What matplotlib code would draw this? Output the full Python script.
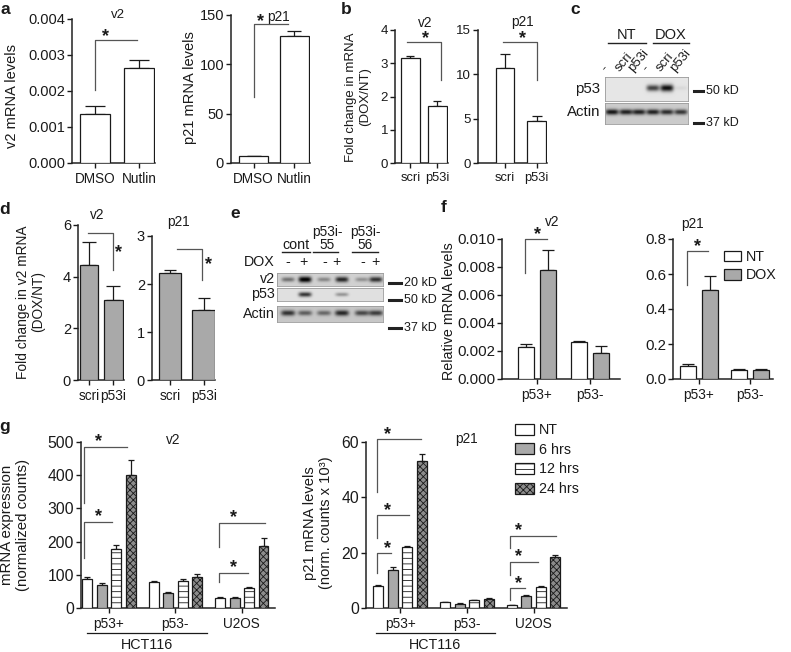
import numpy as np
import matplotlib
matplotlib.use('Agg')
import matplotlib.pyplot as plt
from matplotlib.patches import Patch
import matplotlib.transforms as mtrans

plt.rcParams['font.family'] = ['Liberation Sans', 'DejaVu Sans']
plt.rcParams['hatch.linewidth'] = 0.6
plt.rcParams['text.color'] = '#1a1a1a'

# ---------------- data ----------------
a_cats = ['DMSO', 'Nutlin']
a_v2 = [0.00135, 0.00265]
a_v2_err = [0.00023, 0.00022]
a_p21 = [6.8, 129.0]
a_p21_err = [0.4, 5.0]

b_cats = ['scri', 'p53i']
b_v2 = [3.17, 1.72]
b_v2_err = [0.06, 0.15]
b_p21 = [10.76, 4.69]
b_p21_err = [1.54, 0.56]

d_cats = ['scri', 'p53i']
d_v2 = [4.45, 3.10]
d_v2_err = [0.88, 0.55]
d_p21 = [2.23, 1.455]
d_p21_err = [0.07, 0.255]

f_groups = ['p53+', 'p53-']
f_series = ['NT', 'DOX']
f_v2_nt = [0.0023, 0.00267]
f_v2_nt_err = [0.00018, 0.00007]
f_v2_dox = [0.00776, 0.00184]
f_v2_dox_err = [0.00143, 0.00052]
f_p21_nt = [0.077, 0.052]
f_p21_nt_err = [0.009, 0.007]
f_p21_dox = [0.51, 0.052]
f_p21_dox_err = [0.076, 0.007]

g_groups = ['p53+', 'p53-', 'U2OS']
g_times = ['NT', '6 hrs', '12 hrs', '24 hrs']
g_v2 = [[88, 77, 30], [68, 45, 30], [177, 80, 60], [400, 92, 188]]
g_v2_err = [[4, 5, 2], [6, 2, 2], [12, 6, 4], [47, 10, 22]]
g_p21 = [[8.0, 2.1, 1.1], [13.7, 1.6, 4.3], [22.0, 2.8, 7.5], [53.0, 3.4, 18.4]]
g_p21_err = [[0.3, 0.2, 0.1], [1.1, 0.2, 0.3], [0.3, 0.2, 0.3], [2.8, 0.3, 0.7]]

# western blot band intensities (relative)
c_lanes = ['-', 'scri', 'p53i', '-', 'scri', 'p53i']
c_p53 = [0.0, 0.0, 0.0, 0.75, 1.0, 0.06]
c_actin = [0.85, 0.8, 0.8, 0.8, 0.75, 0.7]
e_dox = ['-', '+', '-', '+', '-', '+']
e_v2 = [0.45, 1.0, 0.35, 0.8, 0.3, 0.75]
e_p53 = [0.0, 0.8, 0.0, 0.35, 0.0, 0.0]
e_actin = [0.7, 0.5, 0.45, 0.75, 0.6, 0.65]

GRAY = '#a9a9a9'
TXT = '#1a1a1a'

W, H = 791, 652
fig = plt.figure(figsize=(W / 100, H / 100), dpi=100)


def add_ax(l, t, r, b):
    return fig.add_axes([l / W, 1 - b / H, (r - l) / W, (b - t) / H])


def ftext(x, y, s, **kw):
    kw.setdefault('ha', 'center')
    kw.setdefault('va', 'center')
    return fig.text(x / W, 1 - y / H, s, **kw)


def fline(x0, x1, y0, y1, lw=1.0, color='#222222'):
    fig.add_artist(plt.Line2D([x0 / W, x1 / W], [1 - y0 / H, 1 - y1 / H],
                              lw=lw, color=color))


def style_ax(ax, xlim, ylim, yticks, ylabels, fs):
    ax.set_xlim(*xlim)
    ax.set_ylim(*ylim)
    for s in ['top', 'right']:
        ax.spines[s].set_visible(False)
    for s in ['left', 'bottom']:
        ax.spines[s].set_linewidth(1.1)
        ax.spines[s].set_color('#222222')
    ax.set_yticks(yticks)
    ax.set_yticklabels(ylabels)
    ax.tick_params(direction='out', length=3.5, width=1.0, pad=1.5,
                   labelsize=fs, colors=TXT)
    ax.tick_params(axis='x', pad=2.8)
    ax.patch.set_alpha(0)


def bars(ax, x, vals, errs, width, capsize, **kw):
    ax.bar(x, vals, width=width, edgecolor='#1a1a1a', linewidth=0.9,
           zorder=3, **kw)
    ax.errorbar(x, vals, yerr=[np.zeros(len(vals)), errs], fmt='none',
                ecolor='#1a1a1a', elinewidth=0.9, capsize=capsize,
                capthick=0.9, zorder=2)


def bracket(ax, xs, ys):
    ax.plot(xs, ys, color='#555555', lw=0.9, clip_on=False, zorder=4)


def star(ax, x, y, fs=13):
    ax.text(x, y, '*', ha='center', va='center', fontsize=fs, color=TXT,
            fontweight='bold', clip_on=False)


# ---------------- panel a ----------------
ax = add_ax(72, 19, 155, 163)
bars(ax, [0, 1], a_v2, a_v2_err, 0.68, 7.2, color='white')
style_ax(ax, (-0.52, 1.36), (0, 0.004), [0, 0.001, 0.002, 0.003, 0.004],
         ['0.000', '0.001', '0.002', '0.003', '0.004'], 10.5)
ax.set_xticks([0, 1])
ax.set_xticklabels(a_cats, fontsize=9.8)
ax.text(0.52, 0.00411, 'v2', fontsize=9.5, ha='center', va='center', clip_on=False)
bracket(ax, [0, 0, 0.95], [0.00203, 0.00342, 0.00342])
star(ax, 0.25, 0.0035)

ax = add_ax(231, 15, 310, 163)
bars(ax, [0, 1], a_p21, a_p21_err, 0.71, 4.7, color='white')
style_ax(ax, (-0.55, 1.38), (0, 150), [0, 50, 100, 150],
         ['0', '50', '100', '150'], 10.5)
ax.set_xticks([0, 1])
ax.set_xticklabels(a_cats, fontsize=9.8)
bracket(ax, [0, 0, 0.84], [67, 141, 141])
star(ax, 0.16, 143)
ax.text(0.6, 148, 'p21', fontsize=9.8, ha='center', va='center', clip_on=False)

ftext(12, 96, 'v2 mRNA levels', rotation=90, fontsize=10.5)
ftext(190, 88, 'p21 mRNA levels', rotation=90, fontsize=10.5)

# ---------------- panel b ----------------
ax = add_ax(395, 30, 448, 163)
bars(ax, [0, 1], b_v2, b_v2_err, 0.7, 2.8, color='white')
style_ax(ax, (-0.57, 1.39), (0, 4), [0, 1, 2, 3, 4],
         ['0', '1', '2', '3', '4'], 9.5)
ax.set_xticks([0, 1])
ax.set_xticklabels(b_cats, fontsize=9.3)
ax.text(0.54, 4.21, 'v2', fontsize=9.8, ha='center', va='center')
bracket(ax, [-0.13, 1.13, 1.13], [3.64, 3.64, 2.5])
star(ax, 0.54, 3.74)

ax = add_ax(478, 30, 547, 163)
bars(ax, [0, 1], b_p21, b_p21_err, 0.59, 3.5, color='white')
style_ax(ax, (-0.86, 1.33), (0, 15), [0, 5, 10, 15],
         ['0', '5', '10', '15'], 9.5)
ax.set_xticks([0, 1])
ax.set_xticklabels(b_cats, fontsize=9.3)
ax.text(0.54, 15.9, 'p21', fontsize=9.8, ha='center', va='center')
bracket(ax, [-0.06, 1.02, 1.02], [13.65, 13.65, 9.36])
star(ax, 0.54, 14.0)

ftext(358, 97, 'Fold change in mRNA\n(DOX/NT)', rotation=90, fontsize=9.5,
      multialignment='center', linespacing=1.15)

# ---------------- panel c (blot) ----------------


def blot(l, t, r, b, centers, intens, bg, bw, bh, yc=None, dark=0.85):
    ax = add_ax(l, t, r, b)
    nx, ny = int((r - l) * 4), int((b - t) * 4)
    xs = np.linspace(l, r, nx)
    ys = np.linspace(t, b, ny)
    X, Y = np.meshgrid(xs, ys)
    if yc is None:
        yc = (t + b) / 2
    img = np.full(X.shape, bg, dtype=float)
    for c, a in zip(centers, intens):
        img -= dark * a * np.exp(-(np.abs(X - c) / bw) ** 4
                                 - ((Y - yc) / (bh * (0.6 + 0.4 * a + 1e-9))) ** 2)
    ax.imshow(np.clip(img, 0, 1), cmap='gray', vmin=0, vmax=1,
              extent=(0, 1, 0, 1), aspect='auto', interpolation='bilinear')
    ax.set_xticks([])
    ax.set_yticks([])
    for s in ax.spines.values():
        s.set_color('#9a9a9a')
        s.set_linewidth(0.6)
    return ax


c_centers = [612, 626, 639, 653, 667, 681]
blot(605, 77, 688, 101, c_centers, c_p53, 0.9, 6.5, 3.5, yc=88)
blot(605, 103, 688, 124, c_centers, c_actin, 0.8, 6.5, 3.0, yc=112)
ftext(600, 89, 'p53', ha='right', fontsize=10.8)
ftext(600, 112, 'Actin', ha='right', fontsize=10.8)
fline(694, 703, 91, 91, lw=2.2)
ftext(706, 91, '50 kD', ha='left', fontsize=9)
fline(694, 703, 123, 123, lw=2.2)
ftext(706, 123, '37 kD', ha='left', fontsize=9)
ftext(627, 35, 'NT', fontsize=10.5)
fline(608, 646, 43, 43, lw=1.0)
ftext(671, 35, 'DOX', fontsize=10.5)
fline(653, 689, 43, 43, lw=1.0)
for cx, lab in zip(c_centers, c_lanes):
    fig.text((cx - 4) / W, 1 - 74 / H, lab, rotation=50, ha='left',
             va='bottom', rotation_mode='anchor', fontsize=9.5)

# ---------------- panel d ----------------
ax = add_ax(78, 225, 124, 380)
bars(ax, [0, 1], d_v2, d_v2_err, 0.75, 5.0, color=GRAY)
style_ax(ax, (-0.45, 1.43), (0, 6), [0, 2, 4, 6], ['0', '2', '4', '6'], 10.5)
ax.set_xticks([0, 1])
ax.set_xticklabels(d_cats, fontsize=9.8)
ax.text(0.33, 6.39, 'v2', fontsize=9.8, ha='center', va='center')
bracket(ax, [-0.04, 0.98, 0.98], [5.69, 5.69, 4.26])
star(ax, 1.2, 4.95)

ax = add_ax(152, 236, 215, 380)
bars(ax, [0, 1], d_p21, d_p21_err, 0.67, 4.0, color=GRAY)
style_ax(ax, (-0.54, 1.34), (0, 3), [0, 1, 2, 3], ['0', '1', '2', '3'], 10.5)
ax.set_xticks([0, 1])
ax.set_xticklabels(d_cats, fontsize=9.8)
ax.text(0.24, 3.29, 'p21', fontsize=9.8, ha='center', va='center')
bracket(ax, [0.21, 0.96, 0.96], [2.73, 2.73, 2.08])
star(ax, 1.15, 2.40)

ftext(31, 302, 'Fold change in v2 mRNA\n(DOX/NT)', rotation=90, fontsize=9.9,
      multialignment='center', linespacing=1.1)

# ---------------- panel e (blot) ----------------
e_centers = [288, 305, 324, 342, 362, 376]
blot(277, 273, 383, 286, e_centers, e_v2, 0.82, 6.5, 3.0, yc=279.5)
blot(277, 288, 383, 301, e_centers, e_p53, 0.88, 6.5, 2.6, yc=294.5)
blot(277, 306, 383, 322, e_centers, e_actin, 0.78, 7.0, 3.2, yc=313)
ftext(275, 279, 'v2', ha='right', fontsize=10.3)
ftext(275, 294, 'p53', ha='right', fontsize=10.3)
ftext(275, 314, 'Actin', ha='right', fontsize=10.3)
ftext(275, 262, 'DOX', ha='right', fontsize=10.3)
for cx, lab in zip([288, 303, 325, 336, 363, 375], e_dox):
    ftext(cx, 262, lab, fontsize=10.3)
ftext(296, 245, 'cont', fontsize=10.3)
fline(282, 310, 252, 252)
ftext(327, 232, 'p53i-', fontsize=9.8)
ftext(327, 245, '55', fontsize=9.8)
fline(313, 338, 252, 252)
ftext(365, 232, 'p53i-', fontsize=9.8)
ftext(365, 245, '56', fontsize=9.8)
fline(352, 378, 252, 252)
fline(389, 401, 283, 283, lw=2.2)
ftext(404, 283, '20 kD', ha='left', fontsize=9)
fline(389, 401, 300, 300, lw=2.2)
ftext(404, 300, '50 kD', ha='left', fontsize=9)
fline(389, 401, 328, 328, lw=2.2)
ftext(404, 328, '37 kD', ha='left', fontsize=9)

# ---------------- panel f ----------------
ax = add_ax(502, 239, 620, 379)
xg = np.arange(len(f_groups))
bars(ax, xg - 0.21, f_v2_nt, f_v2_nt_err, 0.30, 4.0, color='white')
bars(ax, xg + 0.21, f_v2_dox, f_v2_dox_err, 0.30, 4.0, color=GRAY)
style_ax(ax, (-0.66, 1.57), (0, 0.010), [0, 0.002, 0.004, 0.006, 0.008, 0.010],
         ['0.000', '0.002', '0.004', '0.006', '0.008', '0.010'], 10.8)
ax.set_xticks(xg)
ax.set_xticklabels(f_groups, fontsize=9.8)
ax.text(0.28, 0.0112, 'v2', fontsize=9.8, ha='center', va='center')
bracket(ax, [-0.23, -0.23, 0.19], [0.00757, 0.0100, 0.0100])
star(ax, 0.02, 0.0103)

ax = add_ax(673, 239, 773, 379)
bars(ax, xg - 0.216, f_p21_nt, f_p21_nt_err, 0.31, 4.0, color='white')
bars(ax, xg + 0.216, f_p21_dox, f_p21_dox_err, 0.31, 4.0, color=GRAY)
style_ax(ax, (-0.51, 1.45), (0, 0.8), [0, 0.2, 0.4, 0.6, 0.8],
         ['0.0', '0.2', '0.4', '0.6', '0.8'], 10.8)
ax.set_xticks(xg)
ax.set_xticklabels(f_groups, fontsize=9.8)
ax.text(-0.12, 0.886, 'p21', fontsize=9.8, ha='center', va='center', clip_on=False)
bracket(ax, [-0.24, -0.24, 0.18], [0.537, 0.731, 0.731])
star(ax, -0.02, 0.755)
ax.legend([Patch(facecolor='white', edgecolor='#1a1a1a', lw=0.9),
           Patch(facecolor=GRAY, edgecolor='#1a1a1a', lw=0.9)], f_series,
          loc='upper left', bbox_to_anchor=(724 / W, 1 - 250 / H),
          bbox_transform=fig.transFigure, frameon=False, fontsize=10.3,
          handlelength=1.2, handleheight=0.75, handletextpad=0.35,
          labelspacing=0.3, borderpad=0, borderaxespad=0)

ftext(449, 311, 'Relative mRNA levels', rotation=90, fontsize=10.3)

# ---------------- panel g ----------------
g_styles = [dict(color='white'),
            dict(color=GRAY),
            dict(color='white', hatch='---'),
            dict(color='#8c8c8c', hatch='xxxxx')]
g_off = [-1.5, -0.5, 0.5, 1.5]
xg3 = np.arange(len(g_groups))

ax = add_ax(81, 442, 275, 608)
for i in range(4):
    bars(ax, xg3 + g_off[i] * 0.218, g_v2[i], g_v2_err[i], 0.15, 2.3, **g_styles[i])
style_ax(ax, (-0.42, 2.5), (0, 500), [0, 100, 200, 300, 400, 500],
         ['0', '100', '200', '300', '400', '500'], 11.3)
ax.set_xticks(xg3)
ax.set_xticklabels(g_groups, fontsize=9.8)
ax.text(0.97, 506, 'v2', fontsize=9.8, ha='center', va='center', clip_on=False)
bracket(ax, [-0.37, -0.37, 0.27], [316, 485, 485])
star(ax, -0.15, 500)
bracket(ax, [-0.37, -0.37, 0.05], [151, 259, 259])
star(ax, -0.15, 275)
bracket(ax, [1.66, 1.66, 2.35], [184, 256, 256])
star(ax, 1.87, 272)
bracket(ax, [1.66, 1.66, 2.09], [78, 105, 105])
star(ax, 1.87, 122)
tr = mtrans.blended_transform_factory(ax.transData, ax.transAxes)
ax.plot([-0.33, 1.48], [-0.151, -0.151], color='#1a1a1a', lw=0.9,
        transform=tr, clip_on=False)
ax.text(0.575, -0.225, 'HCT116', transform=tr, ha='center', va='center',
        fontsize=10.3)

ax = add_ax(366, 442, 567, 608)
for i in range(4):
    bars(ax, xg3 + g_off[i] * 0.218, g_p21[i], g_p21_err[i], 0.15, 2.3, **g_styles[i])
style_ax(ax, (-0.51, 2.5), (0, 60), [0, 20, 40, 60], ['0', '20', '40', '60'], 11.3)
ax.set_xticks(xg3)
ax.set_xticklabels(g_groups, fontsize=9.8)
ax.text(1.0, 61, 'p21', fontsize=9.8, ha='center', va='center', clip_on=False)
bracket(ax, [-0.345, -0.345, 0.31], [41.9, 61.1, 61.1])
star(ax, -0.19, 62.6)
bracket(ax, [-0.345, -0.345, 0.135], [25.3, 33.6, 33.6])
star(ax, -0.19, 35.2)
bracket(ax, [-0.345, -0.345, -0.135], [12.6, 19.9, 19.9])
star(ax, -0.19, 21.4)
bracket(ax, [1.648, 1.648, 2.34], [21.7, 26.0, 26.0])
star(ax, 1.77, 28.0)
bracket(ax, [1.648, 1.648, 2.07], [11.9, 16.6, 16.6])
star(ax, 1.77, 18.5)
bracket(ax, [1.648, 1.648, 1.87], [2.9, 7.2, 7.2])
star(ax, 1.77, 9.0)
tr = mtrans.blended_transform_factory(ax.transData, ax.transAxes)
ax.plot([-0.36, 1.42], [-0.151, -0.151], color='#1a1a1a', lw=0.9,
        transform=tr, clip_on=False)
ax.text(0.53, -0.225, 'HCT116', transform=tr, ha='center', va='center',
        fontsize=10.3)

handles = [Patch(facecolor=s['color'], hatch=s.get('hatch'), edgecolor='#1a1a1a',
                 lw=0.9) for s in g_styles]
ax.legend(handles, g_times, loc='upper left',
          bbox_to_anchor=(515 / W, 1 - 423 / H), bbox_transform=fig.transFigure,
          frameon=False, fontsize=10.3, handlelength=1.3, handleheight=0.8,
          handletextpad=0.4, labelspacing=0.4, borderpad=0, borderaxespad=0)

ftext(15, 525, 'mRNA expression\n(normalized counts)', rotation=90,
      fontsize=10.8, multialignment='center', linespacing=1.1)
ftext(318, 523, 'p21 mRNA levels\n(norm. counts x 10\u00b3)', rotation=90,
      fontsize=10.6, multialignment='center', linespacing=1.1)

# ---------------- panel letters ----------------
for (x, y, s) in [(5, 10, 'a'), (346, 10, 'b'), (575, 10, 'c'), (5, 210, 'd'),
                  (235, 213, 'e'), (444, 208, 'f'), (5, 427, 'g')]:
    ftext(x, y, s, fontsize=12.5, fontweight='bold')

fig.savefig('out.png', dpi=100)
